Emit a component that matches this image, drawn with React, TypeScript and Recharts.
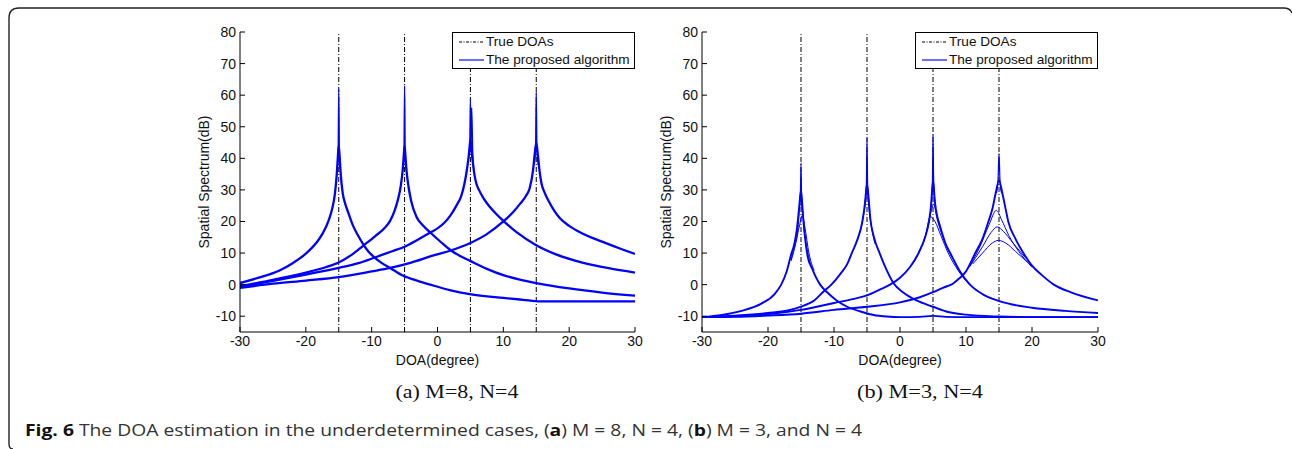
import { LineChart, Line, XAxis, YAxis, ReferenceLine, Legend } from "recharts";

type Pt = [number, number];

const xTicks = [-30, -20, -10, 0, 10, 20, 30];
const yTicks = [-10, 0, 10, 20, 30, 40, 50, 60, 70, 80];
const trueDoas = [-15, -5, 5, 15];
const legendLabels = ["True DOAs", "The proposed algorithm"];

// (a) M=8, N=4 : one spectrum per source (bundle of trials)
const aSrc1: Pt[] = [[-30, 0.5], [-27, 2.3], [-24, 4.5], [-22, 6.8], [-20, 9.8], [-18.5, 13], [-17.5, 16], [-16.5, 20.5], [-16, 24], [-15.6, 28.5], [-15.3, 35], [-15.15, 40], [-15, 44], [-14.85, 40], [-14.7, 35], [-14.4, 29], [-14, 25.5], [-13.5, 22.5], [-12.9, 19], [-12, 15.3], [-11.3, 12.8], [-10.5, 10.5], [-9.5, 8.5], [-8.5, 6.9], [-7.2, 5.3], [-5.2, 2.8], [-3, 1.2], [-1.1, 0], [2, -1.8], [4.9, -3], [10, -4.2], [13, -4.8], [15.6, -5.3], [30, -5.3]];
const aSrc2: Pt[] = [[-30, -0.5], [-25, 1.5], [-20, 3.8], [-17, 5.5], [-15, 7], [-13, 9.5], [-11.3, 12.3], [-9.5, 15.3], [-8, 18], [-7.2, 20.2], [-6.5, 23.5], [-6, 27], [-5.6, 31], [-5.3, 36], [-5.15, 40], [-5, 44], [-4.85, 40], [-4.7, 36], [-4.4, 31], [-4, 26.5], [-3.2, 21.5], [-2.2, 18.7], [-1.1, 16.5], [0.5, 13.5], [2, 10.9], [3.5, 9], [4.9, 7.6], [7.5, 5], [10, 3], [12.5, 1.6], [15, 0.5], [20, -1.2], [25, -2.5], [30, -3.5]];
const aSrc3: Pt[] = [[-30, -0.7], [-25, 1.2], [-20, 3.2], [-15, 5.3], [-12, 6.8], [-9.5, 8.6], [-7, 10.5], [-5, 12], [-3, 14.2], [-1.1, 16.5], [0, 17.8], [1, 19.5], [2, 22], [3, 25.5], [3.6, 28], [4.1, 32], [4.4, 35.5], [4.7, 40], [4.85, 43], [5, 46], [5.15, 43], [5.3, 40], [5.6, 35], [5.9, 32], [6.3, 30], [7, 27.3], [8, 24.5], [9, 22.2], [10, 20.2], [12, 16.6], [15, 12.5], [18, 9.6], [22, 7], [26, 5.2], [30, 3.8]];
const aSrc4: Pt[] = [[-30, -1], [-25, 0.3], [-20, 1.3], [-15, 2.4], [-10, 4.2], [-7.2, 5.3], [-4, 7], [-1, 9], [2, 10.8], [5, 13.2], [7.5, 16], [10, 20], [11.5, 23], [12.5, 25.5], [13.5, 28.3], [14, 30.5], [14.5, 36], [14.75, 41], [15, 45], [15.25, 41], [15.5, 36], [15.8, 32], [16.3, 29], [17, 26], [17.8, 23.2], [18.6, 21], [20, 18.6], [22, 16.2], [25, 13.6], [28, 11.2], [30, 9.7]];

// (a) single trials that reach the top of each peak
const aSpike1: Pt[] = [[-15.3, 35], [-15.1, 41], [-15, 62], [-14.9, 41], [-14.7, 35]];
const aSpike2: Pt[] = [[-5.3, 36], [-5.1, 41], [-5, 63], [-4.9, 41], [-4.7, 36]];
const aSpike3: Pt[] = [[4.7, 40], [4.9, 44], [5, 59], [5.1, 45], [5.2, 56], [5.35, 42], [5.6, 35]];
const aSpike4: Pt[] = [[14.7, 38], [14.9, 43], [15, 61], [15.1, 43], [15.3, 38]];

// (b) M=3, N=4 : main spectra
const bSrc1: Pt[] = [[-30, -10.3], [-27, -9.6], [-24, -8.3], [-21, -6], [-19, -3], [-18, 0], [-17.2, 4], [-16.5, 9.5], [-16, 13], [-15.6, 18], [-15.3, 24], [-15, 30], [-14.7, 22], [-14.4, 15], [-14, 9], [-13.3, 5], [-12.1, 0], [-11, -2.5], [-9.6, -5], [-8, -7], [-6, -8.5], [-4, -9.6], [-2, -10.1], [0, -10.3], [3, -10.2], [5, -9.9], [7, -10.2], [10, -10.3], [30, -10.3]];
const bSrc2: Pt[] = [[-30, -10.3], [-25, -9.8], [-20, -9], [-17, -8.2], [-15, -7], [-13, -5], [-11.5, -2], [-10.4, 0], [-9, 3.5], [-8, 6.5], [-7.3, 10], [-6.5, 14], [-5.7, 20], [-5.3, 26], [-5, 32], [-4.7, 26], [-4.5, 21], [-4, 15.5], [-3, 9.5], [-2, 4.5], [-1, 0.5], [0.5, -2.5], [2.5, -5], [5, -7], [7, -8.5], [10, -9.5], [15, -10.1], [20, -10.3], [30, -10.3]];
const bSrc3: Pt[] = [[-30, -10.3], [-25, -10], [-20, -9.3], [-15, -8], [-10, -5.8], [-7, -4.5], [-5, -3.4], [-3, -1.5], [-1.5, 0], [0, 2.2], [1.5, 5.5], [2.8, 10], [3.8, 15], [4.4, 20], [4.7, 25], [5, 33], [5.3, 26], [5.6, 22], [6, 19], [7, 12.5], [7.6, 10], [9, 4.5], [10.6, 0], [12.5, -3], [14.7, -5], [17, -6.3], [20, -7.3], [25, -8.3], [30, -9]];
const bSrc4: Pt[] = [[-30, -10.3], [-25, -10.2], [-20, -9.8], [-15, -9.2], [-10, -8], [-5, -7], [0, -5.6], [3, -4], [5, -2.4], [6.5, -1], [8, 0.3], [9, 2], [10, 4.2], [11.4, 10], [12.5, 14.5], [13.4, 20], [14, 24], [14.5, 29], [15, 33], [15.5, 29], [16, 24], [16.4, 20], [17.5, 14.5], [18.7, 10], [20, 6], [21.5, 3], [23.3, 0], [26, -2.5], [30, -5]];

// (b) other trials: sharp tops and the ones that split off near the peaks
const bSpike1: Pt[] = [[-15.3, 24], [-15.1, 28], [-15, 38.5], [-14.9, 26], [-14.7, 22]];
const bSpike2: Pt[] = [[-5.3, 26], [-5.1, 31], [-5, 46.5], [-4.9, 31], [-4.7, 26]];
const bSpike3: Pt[] = [[4.7, 25], [4.9, 31], [5, 47.5], [5.1, 33], [5.3, 26]];
const bSpike4: Pt[] = [[14.6, 29], [14.85, 33], [15, 41.5], [15.15, 33], [15.4, 29]];
const bTrial1: Pt[] = [[-16.5, 8], [-16, 12], [-15.5, 17], [-15, 28], [-14.5, 17], [-14, 10.5], [-13.5, 6]];
const bTrial2: Pt[] = [[-16.5, 7.5], [-15.8, 13], [-15.2, 19], [-14.8, 22], [-14.4, 18], [-13.8, 10], [-13, 4.5]];
const bTrial3: Pt[] = [[-6.5, 14], [-5.7, 20], [-5.3, 25], [-5, 31], [-4.7, 24], [-4.3, 18], [-3.8, 13]];
const bTrial4: Pt[] = [[1, 4.5], [2.5, 8.5], [3.8, 15], [4.6, 21.5], [5.3, 20], [6.2, 15.5], [7.3, 10], [8.8, 4.5], [10.5, 0]];
const bTrial5: Pt[] = [[3.5, 13], [4.3, 19], [4.8, 24], [5.1, 25.5], [5.6, 21], [6.5, 15], [7.8, 9]];
const bTrial6: Pt[] = [[10, 4.2], [12, 11.5], [13.5, 19], [14.6, 23.5], [15.4, 20.5], [16.5, 15.5], [18, 10.5], [20, 5.5]];
const bTrial7: Pt[] = [[10.5, 5.5], [12.5, 12], [13.8, 16.5], [14.7, 18.3], [15.7, 16.8], [17, 13.5], [19, 8.5]];
const bTrial8: Pt[] = [[11, 6.5], [12.5, 10], [14, 13.2], [14.9, 14], [16, 13.2], [17.5, 10.5], [19.5, 6.8]];

const toRows = (pts: Pt[]) => pts.map(([x, y]) => ({ x, y }));

const BLUE = "#0000ff";
const FONT = "'Liberation Sans', Arial, Helvetica, sans-serif";
const tickStyle = { fontSize: 14, fill: "#111", fontFamily: FONT };

const LegendBox = () => (
  <div
    style={{
      boxSizing: "border-box",
      width: 183,
      height: 37,
      border: "1px solid #000",
      background: "#fff",
      fontFamily: FONT,
      fontSize: 13.6,
      color: "#111",
      lineHeight: "18px",
    }}
  >
    {legendLabels.map((label, i) => (
      <div key={label} style={{ display: "flex", alignItems: "center", height: 18 }}>
        <svg width={29} height={10} style={{ marginLeft: 4 }}>
          {i === 0 ? (
            <line x1={2} x2={27} y1={5} y2={5} stroke="#000" strokeWidth={1} strokeDasharray="3 1.5 1 1.5" />
          ) : (
            <line x1={2} x2={27} y1={5} y2={5} stroke="#6f6fff" strokeWidth={2} />
          )}
        </svg>
        <span>{label}</span>
      </div>
    ))}
  </div>
);

type Series = { pts: Pt[]; w: number };

function Panel({ left, width, series }: { left: number; width: number; series: Series[] }) {
  return (
    <div style={{ position: "absolute", left, top: 0 }}>
      <LineChart width={width} height={380} margin={{ top: 32, right: 15, bottom: 8, left: 0 }}>
        <XAxis
          xAxisId="b"
          dataKey="x"
          type="number"
          domain={[-30, 30]}
          ticks={xTicks}
          allowDataOverflow
          height={40}
          tickSize={-5}
          tickMargin={9}
          tick={tickStyle}
          fontSize={14}
          fontFamily={FONT}
          stroke="#000"
          label={{ value: "DOA(degree)", position: "insideBottom", offset: 7, fontSize: 14, fontFamily: FONT, fill: "#111" }}
        />
        <XAxis
          xAxisId="t"
          orientation="top"
          type="number"
          dataKey="x"
          domain={[-30, 30]}
          ticks={xTicks}
          allowDataOverflow
          height={0}
          tickSize={-5}
          tick={false}
          stroke="#000"
        />
        <YAxis
          yAxisId="l"
          type="number"
          domain={[-15, 80]}
          ticks={yTicks}
          allowDataOverflow
          width={60}
          tickSize={-5}
          tickMargin={9}
          tick={tickStyle}
          fontSize={14}
          fontFamily={FONT}
          stroke="#000"
          label={{ value: "Spatial Spectrum(dB)", angle: -90, position: "center", dx: -6, fontSize: 14, fontFamily: FONT, fill: "#111" }}
        />
        <YAxis
          yAxisId="r"
          orientation="right"
          type="number"
          domain={[-15, 80]}
          ticks={yTicks}
          allowDataOverflow
          width={0}
          tickSize={-5}
          tick={false}
          stroke="#000"
        />
        {trueDoas.map((d) => (
          <ReferenceLine
            key={d}
            x={d}
            xAxisId="b"
            yAxisId="l"
            stroke="#000"
            strokeWidth={1}
            strokeDasharray="5 2 1 2"
          />
        ))}
        {series.map((s, i) => (
          <Line
            key={i}
            xAxisId="b"
            yAxisId="l"
            data={toRows(s.pts)}
            dataKey="y"
            type="monotone"
            stroke={BLUE}
            strokeWidth={s.w}
            strokeLinejoin="round"
            dot={false}
            activeDot={false}
            legendType="none"
            isAnimationActive={false}
          />
        ))}
        <Legend
          layout="vertical"
          align="center"
          verticalAlign="middle"
          content={() => <LegendBox />}
          wrapperStyle={{ left: width - 15 - 183, top: 32, width: 183 }}
        />
      </LineChart>
    </div>
  );
}

const seriesA: Series[] = [
  ...[aSrc1, aSrc2, aSrc3, aSrc4].map((pts) => ({ pts, w: 2.3 })),
  ...[aSpike1, aSpike2, aSpike3, aSpike4].map((pts) => ({ pts, w: 1.3 })),
];
const seriesB: Series[] = [
  ...[bSrc1, bSrc2, bSrc3, bSrc4].map((pts) => ({ pts, w: 1.9 })),
  ...[bSpike1, bSpike2, bSpike3, bSpike4].map((pts) => ({ pts, w: 1.2 })),
  ...[bTrial1, bTrial2, bTrial3, bTrial4, bTrial5, bTrial6, bTrial7, bTrial8].map((pts) => ({ pts, w: 1 })),
];

export default function App() {
  return (
    <div style={{ position: "absolute", left: 0, top: 0, width: 1292, height: 449, background: "#fff", overflow: "hidden" }}>
      <svg width={1292} height={449} style={{ position: "absolute", left: 0, top: 0 }}>
        <path
          d="M 13 449 Q 9 449 9 444 L 9 18 Q 9 8 19 8 L 1284 8 Q 1290 8 1292 13"
          fill="none"
          stroke="#222"
          strokeWidth={1.4}
        />
        <text x={457} y={398} textAnchor="middle" fontFamily="'Liberation Serif', 'Times New Roman', serif" fontSize={18} fill="#111" textLength={123} lengthAdjust="spacingAndGlyphs">
          (a)  M=8, N=4
        </text>
        <text x={920} y={398} textAnchor="middle" fontFamily="'Liberation Serif', 'Times New Roman', serif" fontSize={18} fill="#111" textLength={126} lengthAdjust="spacingAndGlyphs">
          (b)  M=3, N=4
        </text>
        <text x={25} y={436} fontFamily="'Open Sans', 'Noto Sans', sans-serif" fontSize={15.5} fill="#333" textLength={837} lengthAdjust="spacingAndGlyphs">
          <tspan fontWeight="bold" fill="#111">Fig. 6</tspan>
          <tspan> The DOA estimation in the underdetermined cases, (</tspan>
          <tspan fontWeight="bold" fill="#111">a</tspan>
          <tspan>) M = 8, N = 4, (</tspan>
          <tspan fontWeight="bold" fill="#111">b</tspan>
          <tspan>) M = 3, and N = 4</tspan>
        </text>
      </svg>
      <Panel left={180} width={470} series={seriesA} />
      <Panel left={642} width={471} series={seriesB} />
    </div>
  );
}
